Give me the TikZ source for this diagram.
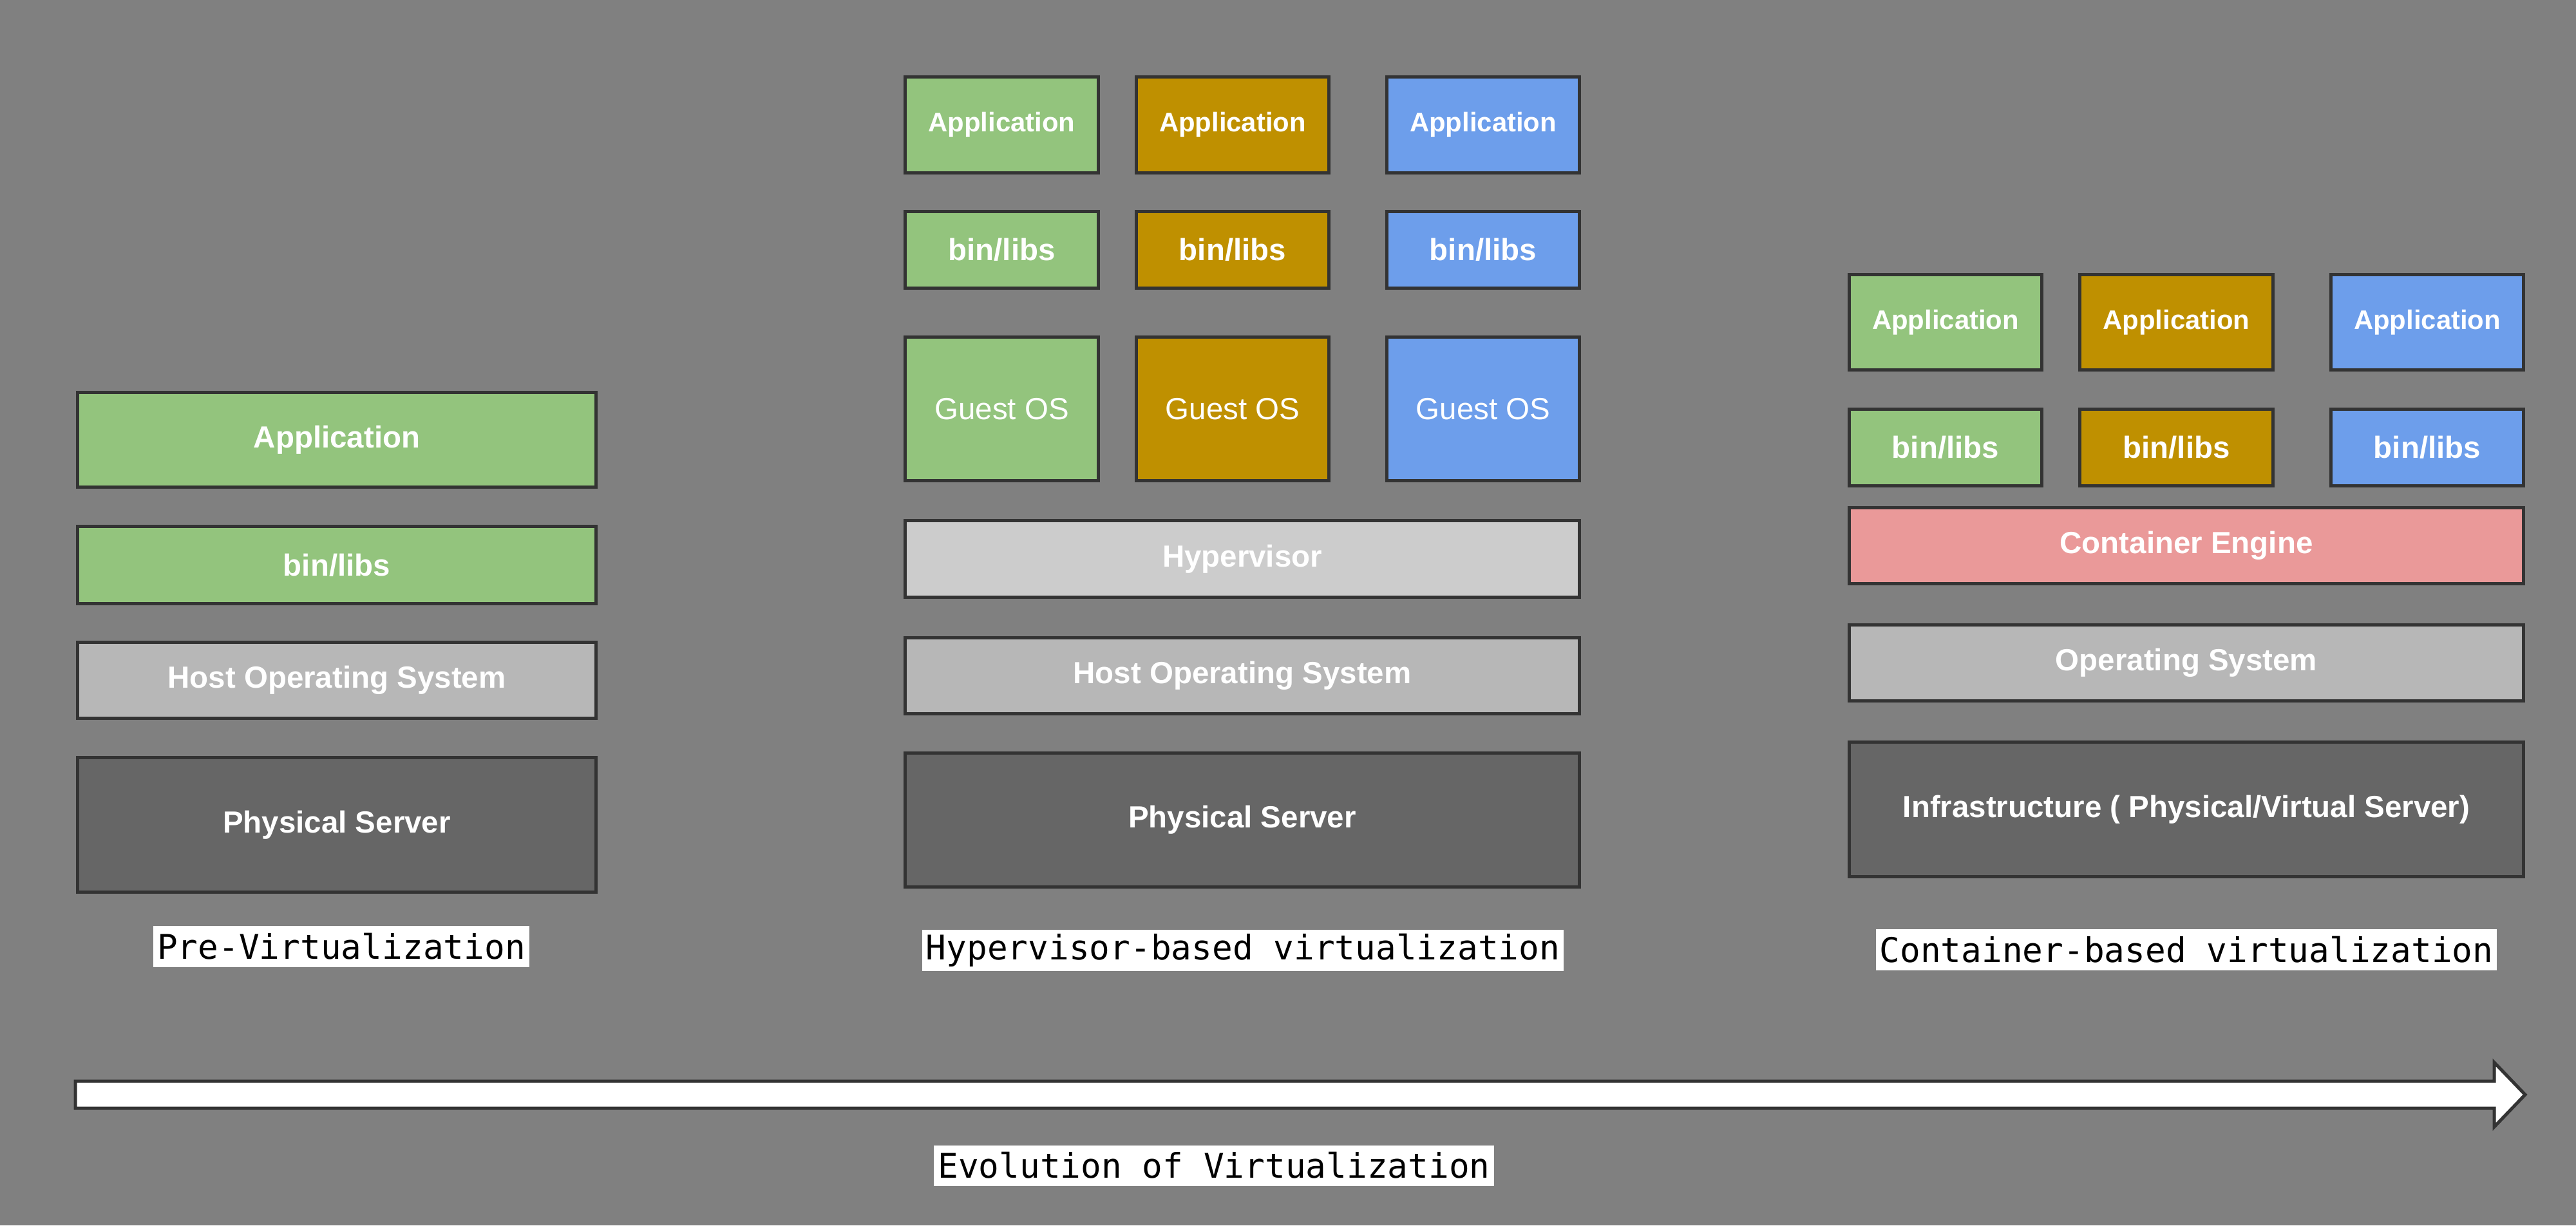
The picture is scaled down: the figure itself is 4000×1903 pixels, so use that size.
\documentclass[tikz,border=0pt]{standalone}
\usepackage{fontspec}
\usetikzlibrary{calc}
\setmainfont{Liberation Sans}
\newfontfamily\capfont{DejaVu Sans Mono}

\definecolor{canvas}{HTML}{808080}
\definecolor{edge}{HTML}{333333}
\definecolor{appgreen}{HTML}{93C47D}
\definecolor{appgold}{HTML}{BF9000}
\definecolor{appblue}{HTML}{6D9EEB}
\definecolor{hyper}{HTML}{CCCCCC}
\definecolor{hostos}{HTML}{B7B7B7}
\definecolor{metal}{HTML}{666666}
\definecolor{engine}{HTML}{EA9999}

\begin{document}
\begin{tikzpicture}[x=0.01cm,y=-0.01cm,
  layer/.style={draw=edge, line width=0.05cm, text=white, inner sep=0pt,
    font=\bfseries\fontsize{13.5}{16}\selectfont},
  smalltext/.style={font=\bfseries\fontsize{11.9}{14}\selectfont},
  plaintext/.style={font=\fontsize{13.5}{16}\selectfont},
  wide/.style={minimum width=8.05cm},
  span/.style={minimum width=10.47cm},
  tile/.style={minimum width=2.99cm},
  caption/.style={fill=white, text=black, inner xsep=0.06cm, inner ysep=0pt,
    minimum height=0.63cm, font=\capfont\fontsize{15}{18}\selectfont},
  timeline/.style={draw=edge, fill=white, line width=0.05cm, line join=miter}]

% background and page size
\fill[canvas] (0,0) rectangle (4000,1903);
\useasboundingbox (0,0) rectangle (4000,1903);

% ---- pre-virtualization stack
\node[layer, wide, fill=appgreen, minimum height=1.47cm] (preApp) at (523,683) {Application};
\node[layer, wide, fill=appgreen, minimum height=1.20cm] (preLib) at (523,877.5) {bin/libs};
\node[layer, wide, fill=hostos, minimum height=1.18cm] (preOS) at (523,1056.5) {Host Operating System};
\node[layer, wide, fill=metal, minimum height=2.09cm] (preHW) at (523,1281) {Physical Server};
\node[caption] (preCap) at (530,1470) {Pre-Virtualization};

% ---- hypervisor-based stack
\foreach \cx/\col/\id in {1555.5/appgreen/a, 1914/appgold/b, 2303/appblue/c}{
  \node[layer, tile, smalltext, fill=\col, minimum height=1.49cm] (hvApp\id) at (\cx,194) {Application};
  \node[layer, tile, fill=\col, minimum height=1.19cm] (hvLib\id) at (\cx,388) {bin/libs};
  \node[layer, tile, plaintext, fill=\col, minimum height=2.23cm] (hvGuest\id) at (\cx,635) {Guest OS};
}
\node[layer, span, fill=hyper, minimum height=1.19cm] (hvHyp) at (1929,868) {Hypervisor};
\node[layer, span, fill=hostos, minimum height=1.18cm] (hvOS) at (1929,1049.5) {Host Operating System};
\node[layer, span, fill=metal, minimum height=2.08cm] (hvHW) at (1929,1273.5) {Physical Server};
\node[caption] (hvCap) at (1930,1476) {Hypervisor-based virtualization};

% ---- container-based stack
\foreach \cx/\col/\id in {3021/appgreen/a, 3379.5/appgold/b, 3769/appblue/c}{
  \node[layer, tile, smalltext, fill=\col, minimum height=1.48cm] (ctApp\id) at (\cx,500.5) {Application};
  \node[layer, tile, fill=\col, minimum height=1.19cm] (ctLib\id) at (\cx,695) {bin/libs};
}
\node[layer, span, fill=engine, minimum height=1.18cm] (ctEngine) at (3395,847.5) {Container Engine};
\node[layer, span, fill=hostos, minimum height=1.18cm] (ctOS) at (3395,1029.5) {Operating System};
\node[layer, span, fill=metal, minimum height=2.09cm] (ctHW) at (3395,1257) {Infrastructure ( Physical/Virtual Server)};
\node[caption] (ctCap) at (3395,1475) {Container-based virtualization};

% ---- timeline arrow
\coordinate (tlStart) at (117,1700);
\coordinate (tlTip) at (3921,1700);
\draw[timeline] ($(tlStart)+(0,-21)$) -- (3873,1679) -- (3873,1650) -- (tlTip)
  -- (3873,1750) -- (3873,1721) -- ($(tlStart)+(0,21)$) -- cycle;
\node[caption] (tlCap) at (1885,1810) {Evolution of Virtualization};
\end{tikzpicture}
\end{document}
